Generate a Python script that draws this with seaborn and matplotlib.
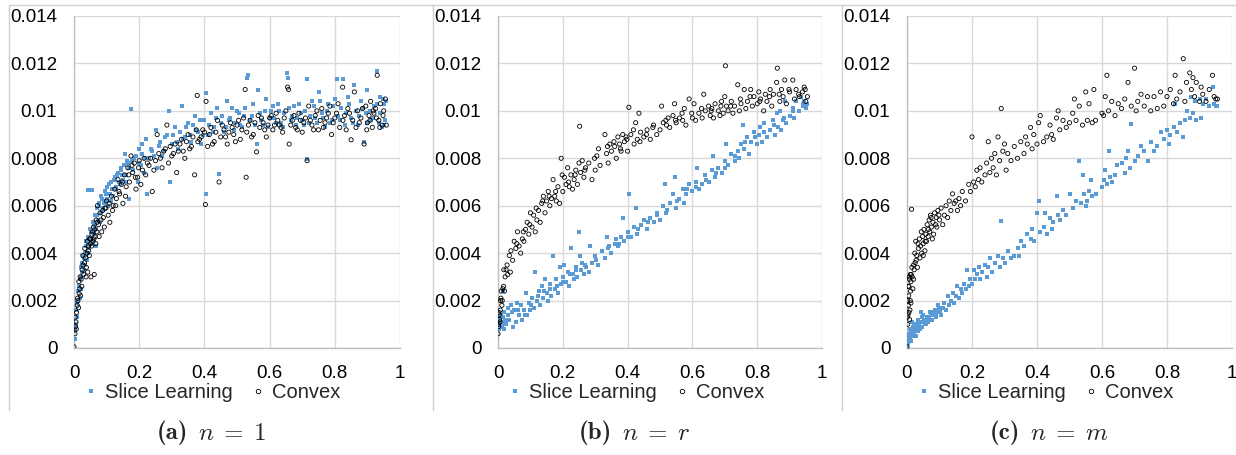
import matplotlib
matplotlib.use("Agg")
import pandas as pd
import matplotlib.pyplot as plt
import seaborn as sns
from matplotlib.lines import Line2D

Y_UNIT = 1e-3

# (a) n = 1
a_convex_x = [0.0,0.003,0.005,0.006,0.008,0.01,0.012,0.014,0.016,0.018,0.02,0.022,0.025,0.028,0.03,0.032,0.035,0.038,0.04,0.042,
              0.045,0.048,0.05,0.052,0.055,0.058,0.06,0.062,0.065,0.068,0.07,0.072,0.075,0.08,0.085,0.09,0.095,0.1,0.105,0.11,
              0.115,0.12,0.125,0.13,0.135,0.14,0.145,0.15,0.155,0.16,0.165,0.17,0.175,0.18,0.185,0.19,0.195,0.2,0.205,0.21,
              0.215,0.22,0.23,0.24,0.25,0.255,0.26,0.27,0.28,0.285,0.29,0.3,0.31,0.315,0.32,0.33,0.34,0.35,0.36,0.37,
              0.375,0.378,0.38,0.39,0.4,0.403,0.405,0.41,0.42,0.43,0.44,0.445,0.45,0.46,0.47,0.48,0.49,0.5,0.51,0.52,
              0.525,0.528,0.53,0.54,0.55,0.56,0.565,0.57,0.58,0.59,0.6,0.61,0.62,0.63,0.64,0.65,0.655,0.658,0.66,0.67,
              0.68,0.69,0.7,0.71,0.715,0.72,0.73,0.74,0.75,0.76,0.77,0.78,0.79,0.8,0.81,0.815,0.824,0.83,0.84,0.85,
              0.855,0.86,0.865,0.87,0.88,0.89,0.895,0.9,0.905,0.91,0.915,0.92,0.925,0.93,0.935,0.94,0.945,0.95,0.955,0.958,
              0.004,0.007,0.011,0.015,0.019,0.024,0.027,0.033,0.037,0.041,0.044,0.047,0.051,0.054,0.057,0.061,0.064,0.067,0.071,0.077,
              0.083,0.088,0.093,0.098,0.108,0.118,0.128,0.138,0.148,0.158,0.168,0.178,0.188,0.198,0.225,0.235,0.245,0.265,0.275,0.295,
              0.305,0.325,0.335,0.345,0.355,0.365,0.385,0.395,0.415,0.425,0.435,0.455,0.465,0.475,0.485,0.495,0.505,0.515,0.535,0.545,
              0.555,0.575,0.585,0.595,0.605,0.615,0.625,0.635,0.645,0.665,0.675,0.685,0.695,0.705,0.725,0.735,0.745,0.755,0.765,0.775,
              0.785,0.795,0.805,0.825,0.835,0.845,0.875,0.885,0.898,0.908,0.918,0.928,0.938,0.948]
a_convex_y = [0.05,0.6,0.9,1.1,1.5,1.8,2.0,1.7,2.3,2.5,2.2,2.9,3.3,3.5,3.1,3.6,3.8,3.4,4.0,3.2,
              4.3,4.6,4.4,3.0,4.8,4.5,5.1,3.1,4.7,5.4,4.9,6.0,5.2,5.7,4.9,5.5,5.9,6.2,5.6,5.3,
              6.4,6.0,6.7,6.3,7.1,6.5,6.9,6.1,7.3,6.8,7.6,7.0,8.1,7.4,7.8,6.7,7.2,7.9,6.9,7.5,
              8.0,7.3,7.7,6.6,7.9,9.0,8.2,7.6,8.4,9.4,7.8,8.1,8.6,7.4,8.3,8.8,8.0,9.0,8.5,7.3,
              9.2,10.65,8.7,8.9,9.1,6.05,10.4,8.5,9.3,8.7,9.6,7.0,8.9,9.2,8.6,9.5,9.0,9.4,8.8,9.7,
              10.9,7.2,9.1,9.6,9.0,8.27,9.8,9.3,9.5,8.9,9.7,9.2,9.9,9.4,9.1,10.0,11.0,10.9,8.6,9.6,
              9.3,9.9,9.1,9.7,7.9,10.2,9.4,9.8,9.2,10.1,9.5,9.9,9.0,9.7,10.3,9.3,11.0,9.8,10.1,8.78,
              9.6,10.8,9.3,10.0,9.7,8.6,10.2,9.5,9.8,10.4,9.3,9.9,10.1,11.5,9.6,10.3,9.4,10.0,10.5,9.4,
              1.3,0.8,2.1,2.8,3.0,2.6,3.9,4.2,3.0,4.5,4.1,3.9,4.6,4.3,4.9,4.6,5.0,4.4,5.3,4.7,
              5.4,5.8,5.1,5.9,6.1,5.8,6.0,6.6,7.0,6.4,7.3,7.7,7.2,7.6,7.8,8.0,7.5,8.0,8.3,8.5,
              8.2,8.6,8.3,8.7,8.4,8.9,8.8,9.2,9.0,8.6,9.1,9.4,8.9,9.1,9.3,8.7,9.6,9.2,9.4,8.9,
              9.5,9.7,9.2,9.4,9.8,9.4,9.6,9.3,9.7,9.4,9.8,9.2,9.6,9.5,9.6,9.2,10.0,9.6,9.3,9.7,
              10.2,9.5,9.9,9.6,9.2,9.9,9.5,10.1,9.2,9.6,10.0,9.7,9.3,9.8]
a_slice_x = [0.002,0.004,0.006,0.008,0.01,0.012,0.015,0.018,0.02,0.022,0.025,0.028,0.03,0.033,0.036,0.04,0.042,0.044,0.046,0.05,
             0.052,0.055,0.058,0.06,0.063,0.066,0.07,0.074,0.078,0.082,0.086,0.09,0.094,0.098,0.1,0.105,0.11,0.115,0.12,0.125,
             0.13,0.135,0.14,0.145,0.15,0.155,0.16,0.165,0.17,0.174,0.178,0.182,0.19,0.195,0.2,0.205,0.21,0.215,0.22,0.225,
             0.23,0.24,0.25,0.255,0.26,0.27,0.28,0.29,0.295,0.3,0.31,0.32,0.33,0.34,0.35,0.36,0.37,0.38,0.39,0.4,
             0.404,0.405,0.41,0.42,0.43,0.44,0.444,0.45,0.46,0.47,0.48,0.49,0.5,0.51,0.52,0.53,0.535,0.54,0.55,0.56,
             0.565,0.57,0.58,0.59,0.6,0.61,0.62,0.63,0.64,0.654,0.656,0.66,0.67,0.68,0.69,0.7,0.71,0.715,0.716,0.72,
             0.73,0.74,0.75,0.76,0.77,0.78,0.79,0.8,0.808,0.81,0.82,0.824,0.83,0.84,0.85,0.86,0.865,0.87,0.88,0.89,
             0.895,0.9,0.91,0.92,0.93,0.935,0.94,0.945,0.95,0.955,0.958,
             0.003,0.007,0.013,0.017,0.021,0.026,0.031,0.035,0.038,0.043,0.048,0.053,0.057,0.062,0.067,0.072,0.076,0.08,0.084,0.088,
             0.092,0.097,0.102,0.108,0.112,0.118,0.122,0.128,0.133,0.138,0.143,0.148,0.153,0.158,0.163,0.168,0.185,0.198,0.208,0.218,
             0.235,0.245,0.265,0.275,0.285,0.305,0.315,0.325,0.335,0.345,0.355,0.365,0.375,0.385,0.395,0.415,0.425,0.435,0.455,0.465,
             0.475,0.485,0.495,0.505,0.515,0.525,0.545,0.555,0.575,0.585,0.595,0.605,0.615,0.625,0.635,0.645,0.665,0.675,0.685,0.695,
             0.705,0.725,0.735,0.745,0.755,0.765,0.775,0.785,0.795,0.815,0.835,0.845,0.855,0.875,0.885,0.898,0.908,0.918,0.928,0.938,
             0.948,0.952]
a_slice_y = [0.4,0.7,1.0,1.3,1.9,2.4,2.6,2.1,3.0,3.4,3.6,3.9,3.3,4.0,4.5,3.7,4.7,6.67,4.2,5.0,
             4.4,6.67,5.3,4.8,5.6,4.3,5.9,5.4,6.1,5.7,6.3,5.9,6.6,6.2,6.8,6.0,6.5,7.0,6.4,7.2,
             6.7,7.4,6.9,7.6,7.1,8.2,7.3,7.8,6.3,10.07,7.9,7.5,8.1,7.0,8.4,7.7,8.6,7.4,8.8,6.5,
             8.0,8.3,9.2,7.6,8.5,8.1,8.9,10.0,7.0,8.6,9.3,8.4,10.2,8.9,9.5,8.7,9.8,9.1,8.6,9.6,
             10.75,6.5,9.0,9.9,9.3,10.1,7.33,9.5,9.1,10.4,9.7,9.2,10.0,9.4,9.8,11.4,11.5,9.6,10.3,8.6,
             10.9,9.9,9.4,10.5,9.7,10.2,9.5,10.0,9.3,11.6,11.4,10.1,9.8,9.4,10.3,9.6,10.0,11.35,7.99,9.5,
             10.4,9.7,10.8,9.9,9.3,10.3,9.6,10.5,11.35,9.8,10.1,11.35,9.4,10.6,9.7,11.1,10.0,9.4,10.4,8.7,
             9.9,10.9,9.6,10.2,11.7,9.5,10.6,9.3,10.3,9.6,10.4,
             0.9,1.6,2.0,2.9,2.5,3.2,3.8,3.5,4.3,4.0,4.6,4.9,4.5,5.2,5.0,5.6,6.0,5.3,6.4,5.8,
             6.1,6.5,6.3,6.9,6.2,6.7,7.1,6.8,7.3,7.0,7.5,7.3,7.7,7.0,7.9,7.6,8.0,7.8,8.2,8.0,
             8.4,8.1,8.7,8.3,9.0,9.0,8.7,9.1,8.8,9.3,9.0,9.4,9.2,9.6,9.0,9.4,9.1,9.7,9.8,9.3,
             9.6,10.1,9.5,9.9,9.3,10.1,9.8,9.4,9.6,10.0,9.3,10.0,9.7,10.3,9.5,9.9,9.6,10.2,9.7,9.9,
             9.4,9.8,10.2,9.5,10.4,9.7,10.0,9.5,10.2,9.6,9.9,10.3,9.5,9.8,10.1,9.5,10.0,9.7,10.3,9.9,
             10.5,9.4]

# (b) n = r
b_convex_x = [0.0,0.002,0.004,0.005,0.007,0.008,0.01,0.012,0.015,0.018,0.02,0.022,0.025,0.03,0.035,0.04,0.045,0.05,0.055,0.06,
              0.065,0.07,0.075,0.08,0.085,0.09,0.095,0.1,0.105,0.11,0.115,0.12,0.125,0.13,0.135,0.14,0.145,0.15,0.155,0.16,
              0.165,0.17,0.175,0.18,0.185,0.19,0.195,0.2,0.205,0.21,0.215,0.22,0.225,0.23,0.235,0.24,0.245,0.25,0.252,0.255,
              0.26,0.265,0.27,0.28,0.29,0.3,0.305,0.31,0.315,0.33,0.335,0.34,0.345,0.35,0.36,0.365,0.37,0.375,0.38,0.385,
              0.39,0.395,0.4,0.404,0.41,0.42,0.425,0.43,0.435,0.44,0.45,0.46,0.47,0.48,0.49,0.5,0.505,0.51,0.52,0.525,
              0.53,0.54,0.545,0.55,0.56,0.57,0.575,0.58,0.59,0.6,0.605,0.61,0.62,0.63,0.635,0.64,0.65,0.655,0.66,0.665,
              0.67,0.68,0.685,0.69,0.695,0.7,0.702,0.705,0.71,0.72,0.725,0.73,0.74,0.745,0.75,0.76,0.765,0.77,0.78,0.785,
              0.79,0.8,0.805,0.81,0.82,0.825,0.83,0.84,0.845,0.85,0.86,0.862,0.87,0.875,0.88,0.885,0.89,0.9,0.91,0.915,
              0.92,0.93,0.94,0.945,0.95,0.955,
              0.001,0.003,0.006,0.009,0.013,0.017,0.028,0.038,0.058,0.078,0.098,0.118,0.138,0.158,0.178,0.198,0.218,0.238,0.268,0.298,
              0.338,0.358,0.378,0.398,0.418,0.438,0.458,0.478,0.518,0.548,0.568,0.598,0.628,0.658,0.688,0.718,0.748,0.778,0.808,0.838,
              0.868,0.898,0.928,0.948]
b_convex_y = [0.6,0.9,1.4,1.2,1.6,2.0,2.4,1.8,2.5,3.3,2.4,3.0,3.3,3.1,3.9,4.1,3.7,4.5,4.2,4.9,
              4.3,4.0,4.6,4.5,5.0,5.3,4.8,5.7,5.1,5.6,4.9,5.4,5.8,5.3,6.1,6.4,5.7,6.2,6.6,6.0,
              6.3,7.1,6.4,6.2,6.8,6.1,8.0,6.6,7.2,6.9,7.6,6.8,7.3,6.7,7.1,7.5,6.9,7.8,9.35,7.4,
              7.9,7.2,7.6,7.8,7.1,7.5,8.1,8.4,7.7,9.0,8.2,7.8,8.6,8.3,8.5,8.0,8.9,8.6,8.3,9.0,
              8.7,8.9,8.3,10.15,9.0,8.6,9.5,8.8,9.9,9.1,8.9,9.2,8.8,9.4,9.0,9.2,10.2,9.5,9.4,9.7,
              9.3,9.8,10.3,9.5,9.7,9.6,10.1,9.4,10.5,9.7,10.3,9.6,9.9,9.7,10.7,10.0,10.2,9.8,10.1,9.7,
              10.3,10.0,9.8,10.4,9.9,10.6,11.9,10.2,10.0,10.4,9.9,10.2,11.1,10.0,10.3,10.9,10.1,10.4,10.9,10.2,
              10.6,10.3,10.8,10.5,10.0,10.7,10.4,10.9,10.2,10.7,11.2,11.8,10.4,10.9,10.6,11.3,10.3,10.8,11.3,10.5,
              10.9,10.6,10.8,11.0,10.4,10.6,
              1.0,1.5,1.1,2.1,2.0,2.6,3.5,3.2,4.4,4.9,5.2,5.9,6.2,6.4,6.6,7.3,7.0,7.3,7.5,8.0,
              8.5,8.7,8.4,8.8,9.2,8.7,9.0,9.3,9.6,9.6,9.9,9.9,10.1,10.0,10.2,10.2,10.5,10.6,10.4,10.6,
              10.7,10.9,10.7,10.9]
b_slice_x = [0.0,0.002,0.004,0.006,0.008,0.01,0.012,0.014,0.016,0.018,0.02,0.025,0.03,0.035,0.04,0.045,0.05,0.055,0.06,0.065,
             0.07,0.075,0.08,0.085,0.09,0.095,0.1,0.105,0.11,0.115,0.12,0.125,0.13,0.135,0.14,0.145,0.15,0.155,0.16,0.165,
             0.17,0.175,0.18,0.185,0.19,0.195,0.2,0.205,0.21,0.215,0.22,0.225,0.23,0.235,0.24,0.245,0.25,0.252,0.255,0.26,
             0.265,0.27,0.28,0.285,0.29,0.3,0.31,0.32,0.33,0.335,0.34,0.35,0.36,0.365,0.37,0.38,0.385,0.39,0.4,0.405,
             0.41,0.42,0.425,0.43,0.44,0.45,0.46,0.47,0.48,0.49,0.5,0.51,0.515,0.52,0.53,0.54,0.545,0.55,0.56,0.57,
             0.575,0.58,0.59,0.6,0.61,0.615,0.62,0.63,0.64,0.65,0.66,0.665,0.67,0.68,0.69,0.7,0.705,0.71,0.72,0.73,
             0.74,0.745,0.75,0.755,0.76,0.77,0.775,0.78,0.79,0.8,0.805,0.81,0.815,0.82,0.83,0.84,0.85,0.855,0.86,0.865,
             0.87,0.875,0.88,0.885,0.89,0.9,0.91,0.915,0.92,0.93,0.935,0.94,0.945,0.95,0.955,
             0.001,0.003,0.005,0.007,0.009,0.011,0.013,0.022,0.032,0.042,0.062,0.082,0.102,0.122,0.142,0.162,0.182,0.202,0.222,0.242,
             0.272,0.302,0.342,0.372,0.402,0.432,0.462,0.492,0.522,0.552,0.582,0.612,0.642,0.672,0.702,0.732,0.762,0.792,0.822,0.852,
             0.882,0.912,0.942]
b_slice_y = [0.9,1.2,0.8,1.0,1.4,1.1,0.9,2.4,1.3,0.8,1.5,1.0,1.7,1.2,1.8,0.9,1.6,1.1,1.9,1.4,
             1.8,1.2,1.6,2.3,1.4,1.9,1.6,2.1,1.7,3.2,2.0,2.4,1.8,2.6,2.1,2.9,2.3,2.0,2.7,2.2,
             3.9,2.5,2.9,2.3,3.4,2.7,3.0,3.5,2.8,3.2,2.6,4.2,3.1,2.9,3.4,3.0,4.9,3.9,3.3,3.6,
             3.1,3.5,3.2,4.3,3.6,3.9,3.5,4.1,3.8,4.7,4.2,4.0,4.4,4.6,4.3,4.7,5.5,4.5,4.9,6.5,
             4.7,5.1,5.9,4.8,5.2,5.4,5.0,5.5,5.3,5.7,5.4,6.0,6.9,5.7,6.1,6.5,7.2,5.9,6.3,6.7,
             6.1,6.5,6.9,6.6,7.0,7.6,6.7,6.9,7.3,7.0,7.5,8.1,7.2,7.6,7.4,7.9,8.6,7.7,8.2,7.9,
             8.3,8.0,8.6,9.4,8.4,8.9,8.2,8.7,9.1,8.6,9.0,9.3,8.7,9.5,8.9,9.2,9.6,9.0,9.9,9.3,
             10.0,9.2,9.6,10.4,9.5,9.8,10.1,9.7,10.4,10.0,10.6,10.2,10.4,10.1,10.3,
             1.1,0.9,1.3,1.2,0.9,1.3,1.0,1.2,1.4,1.5,1.6,1.4,1.8,2.2,2.4,2.5,2.6,2.8,3.1,3.3,
             3.4,3.7,4.3,4.4,4.7,5.0,5.3,5.6,5.8,6.2,6.7,6.8,7.1,7.4,7.6,8.1,8.7,8.9,9.1,9.4,
             9.7,10.0,10.3]

# (c) n = m
c_convex_x = [0.0,0.002,0.003,0.004,0.005,0.006,0.007,0.008,0.009,0.01,0.011,0.012,0.013,0.014,0.015,0.018,0.02,0.022,0.025,0.027,
              0.03,0.032,0.035,0.038,0.04,0.042,0.045,0.048,0.05,0.052,0.055,0.058,0.06,0.062,0.065,0.068,0.07,0.072,0.075,0.08,
              0.082,0.085,0.088,0.09,0.095,0.1,0.105,0.11,0.115,0.12,0.125,0.13,0.135,0.14,0.145,0.15,0.155,0.16,0.165,0.17,
              0.18,0.19,0.195,0.2,0.205,0.21,0.215,0.22,0.225,0.23,0.24,0.245,0.25,0.255,0.26,0.265,0.27,0.275,0.28,0.285,
              0.29,0.295,0.3,0.305,0.31,0.32,0.33,0.34,0.35,0.36,0.365,0.37,0.38,0.385,0.39,0.4,0.405,0.41,0.42,0.43,
              0.44,0.445,0.45,0.46,0.465,0.47,0.48,0.49,0.5,0.51,0.515,0.52,0.53,0.54,0.55,0.555,0.56,0.57,0.575,0.58,
              0.6,0.605,0.61,0.615,0.62,0.63,0.64,0.65,0.66,0.67,0.68,0.69,0.7,0.705,0.71,0.72,0.73,0.74,0.75,0.76,
              0.77,0.78,0.79,0.8,0.81,0.82,0.825,0.83,0.84,0.85,0.855,0.86,0.87,0.875,0.88,0.885,0.89,0.9,0.905,0.91,
              0.92,0.93,0.94,0.945,0.95,0.955,
              0.001,0.002,0.004,0.006,0.008,0.01,0.012,0.016,0.02,0.024,0.028,0.034,0.044,0.05,0.056,0.066,0.074,0.078,0.092,0.098]
c_convex_y = [0.05,1.0,1.4,1.8,2.2,2.6,3.0,1.2,1.6,2.0,2.4,2.8,3.1,5.85,3.4,2.5,2.9,3.3,3.6,4.5,
              3.9,3.4,4.2,4.6,3.8,4.3,4.0,4.7,4.4,5.0,4.1,4.8,4.5,5.2,4.7,5.4,4.9,5.6,5.1,5.3,
              4.8,5.7,5.2,5.5,5.8,5.4,5.9,5.2,5.6,6.0,5.5,6.2,5.8,6.5,6.1,6.2,5.8,6.3,6.0,6.6,
              6.2,6.9,6.6,8.9,7.0,6.8,7.5,7.1,7.6,7.0,7.3,7.8,8.7,7.4,8.0,7.6,8.2,7.3,8.9,7.9,
              10.1,8.3,8.6,7.5,8.2,7.9,8.5,8.0,8.7,8.2,8.9,8.6,9.3,8.4,9.0,8.6,9.5,9.8,8.7,8.9,
              9.4,9.0,8.8,9.7,10.0,9.2,9.6,9.3,9.5,9.9,10.5,9.6,10.2,9.4,10.8,9.6,10.3,9.5,10.9,9.6,
              9.9,9.8,10.6,11.5,10.0,10.4,9.8,10.3,10.1,10.5,11.2,10.2,11.8,10.0,10.4,10.7,10.2,10.6,10.0,10.6,
              10.1,10.8,10.2,10.6,10.9,10.3,11.5,10.5,10.8,12.2,10.4,11.2,11.6,10.9,11.4,10.6,11.2,10.4,11.0,10.7,
              10.4,10.9,11.5,10.6,10.5,10.5,
              1.3,2.0,2.6,1.5,2.9,3.1,1.9,3.0,3.5,4.0,3.7,4.4,4.9,3.9,4.5,5.0,5.5,4.6,5.1,5.6]
c_slice_x = [0.0,0.002,0.003,0.004,0.005,0.006,0.008,0.01,0.012,0.014,0.015,0.018,0.02,0.022,0.025,0.028,0.03,0.033,0.035,0.038,
             0.04,0.043,0.045,0.048,0.05,0.055,0.06,0.065,0.07,0.075,0.08,0.085,0.09,0.095,0.1,0.105,0.11,0.115,0.12,0.125,
             0.13,0.135,0.14,0.145,0.15,0.155,0.16,0.165,0.17,0.175,0.18,0.185,0.19,0.195,0.2,0.205,0.21,0.215,0.22,0.225,
             0.23,0.24,0.245,0.25,0.255,0.26,0.27,0.28,0.285,0.29,0.295,0.3,0.31,0.32,0.33,0.34,0.345,0.35,0.36,0.37,
             0.38,0.385,0.39,0.4,0.405,0.41,0.42,0.425,0.43,0.44,0.445,0.45,0.46,0.465,0.47,0.48,0.49,0.5,0.51,0.52,
             0.53,0.535,0.54,0.545,0.55,0.555,0.56,0.565,0.57,0.58,0.6,0.605,0.61,0.615,0.62,0.625,0.63,0.64,0.645,0.66,
             0.67,0.675,0.68,0.685,0.69,0.7,0.71,0.72,0.73,0.74,0.75,0.76,0.77,0.78,0.79,0.8,0.805,0.81,0.82,0.825,
             0.83,0.84,0.85,0.855,0.86,0.87,0.875,0.88,0.885,0.89,0.9,0.905,0.91,0.92,0.93,0.94,0.945,0.95,0.955,
             0.001,0.003,0.006,0.009,0.011,0.013,0.016,0.019,0.023,0.027,0.032,0.037,0.042,0.047,0.052,0.058,0.063,0.068,0.073,0.078,
             0.083,0.088,0.093,0.098]
c_slice_y = [0.05,0.2,0.4,0.3,0.6,0.5,0.8,0.4,0.7,1.1,0.5,0.9,0.6,1.0,0.8,0.5,0.9,1.2,0.7,1.0,
             0.8,1.5,0.9,1.1,1.4,1.0,1.3,1.1,1.5,1.2,1.4,1.6,1.3,1.8,1.5,1.4,1.7,1.9,1.6,2.2,
             1.8,2.0,2.3,1.9,2.2,2.6,2.1,2.5,2.3,2.7,2.5,3.3,2.6,2.9,2.7,3.3,2.9,3.1,3.4,2.9,
             3.2,3.5,3.0,3.4,3.8,3.2,3.6,3.9,3.4,5.35,3.8,3.6,4.1,3.8,3.9,4.2,3.9,4.5,4.3,4.8,
             4.6,5.0,4.5,5.7,6.2,4.9,5.1,5.7,4.8,5.5,5.0,5.3,6.4,5.6,5.4,5.8,5.6,6.5,5.9,6.2,
             7.9,6.1,7.3,6.5,6.0,6.2,6.6,7.1,6.4,6.5,6.8,7.1,7.5,6.9,8.3,7.2,7.0,7.3,7.7,7.8,
             7.4,8.0,8.3,7.6,9.45,7.9,8.1,8.5,8.3,7.9,8.7,8.3,8.5,9.1,8.8,9.2,8.6,9.0,9.3,10.3,
             9.1,9.5,8.9,9.6,10.0,9.7,10.6,9.9,10.4,9.6,10.5,9.7,10.3,10.5,10.2,11.0,10.3,10.2,10.2,
             0.1,0.2,0.3,0.6,0.3,0.6,0.8,0.6,0.7,1.0,0.8,0.9,1.1,1.3,1.2,1.0,1.2,1.3,1.4,1.2,
             1.5,1.4,1.5,1.7]

x_ticks = [0, 0.2, 0.4, 0.6, 0.8, 1]
x_tick_labels = ["0", "0.2", "0.4", "0.6", "0.8", "1"]
y_ticks = [0, 0.002, 0.004, 0.006, 0.008, 0.010, 0.012, 0.014]
y_tick_labels = ["0", "0.002", "0.004", "0.006", "0.008", "0.01", "0.012", "0.014"]
series_names = ["Slice Learning", "Convex"]
caption_tags = ["(a)", "(b)", "(c)"]
caption_maths = [r"$n\;=\;1$", r"$n\;=\;r$", r"$n\;=\;m$"]

BLUE = "#5B9BD5"
GRID = "#D9D9D9"
FRAME = "#D0D0D0"

sns.set_theme(style="white")
plt.rcParams["font.family"] = ["Liberation Sans", "DejaVu Sans"]
plt.rcParams["mathtext.fontset"] = "cm"

W, H = 1236, 455
fig = plt.figure(figsize=(W / 100, H / 100), dpi=100)

panels = [
    (a_slice_x, a_slice_y, a_convex_x, a_convex_y),
    (b_slice_x, b_slice_y, b_convex_x, b_convex_y),
    (c_slice_x, c_slice_y, c_convex_x, c_convex_y),
]
# pixel geometry of each plot area: left edge, right edge
ax_px = [(74, 400), (498, 822), (907, 1232)]
frame_left_px = [9, 433, 842]
caption_px = [207, 631, 1039]
top_px, bottom_px = 16, 348

for i, (sx, sy, cx, cy) in enumerate(panels):
    l, r = ax_px[i]
    ax = fig.add_axes([l / W, 1 - bottom_px / H, (r - l) / W, (bottom_px - top_px) / H])

    df_s = pd.DataFrame({"x": sx, "y": [v * Y_UNIT for v in sy]})
    df_c = pd.DataFrame({"x": cx, "y": [v * Y_UNIT for v in cy]})

    sns.scatterplot(data=df_s, x="x", y="y", marker="s", s=11, color=BLUE,
                    linewidth=0, ax=ax, zorder=3)
    sns.scatterplot(data=df_c, x="x", y="y", marker="o", s=9, color="black",
                    linewidth=0.6, ax=ax, zorder=4)
    circles = ax.collections[-1]
    circles.set_facecolor("none")
    circles.set_edgecolor("black")

    ax.set_xlim(0, 1)
    ax.set_ylim(0, 0.014)
    ax.set_xticks(x_ticks)
    ax.set_xticklabels(x_tick_labels)
    ax.set_yticks(y_ticks)
    ax.set_yticklabels(y_tick_labels)
    ax.set_xlabel("")
    ax.set_ylabel("")
    ax.grid(True, color=GRID, linewidth=1)
    ax.set_axisbelow(True)
    ax.tick_params(axis="both", length=0, labelsize=13.5, colors="black")
    ax.tick_params(axis="y", pad=12)
    ax.tick_params(axis="x", pad=12)
    for side in ["top", "right"]:
        ax.spines[side].set_visible(False)
    for side in ["left", "bottom"]:
        ax.spines[side].set_color("#BFBFBF")
        ax.spines[side].set_linewidth(1)

    handles = [
        Line2D([], [], linestyle="none", marker="s", markersize=3.2,
               markerfacecolor=BLUE, markeredgewidth=0),
        Line2D([], [], linestyle="none", marker="o", markersize=3.2,
               markerfacecolor="none", markeredgecolor="black", markeredgewidth=0.6),
    ]
    leg_cx = (213 + frame_left_px[i] - 9 - l) / (r - l)
    leg_cy = (bottom_px - 393) / (bottom_px - top_px)
    ax.legend(handles, series_names, loc="center", bbox_to_anchor=(leg_cx, leg_cy),
              ncol=2, frameon=False, fontsize=14.5, handlelength=0.5,
              handletextpad=0.45, columnspacing=1.0, borderpad=0)

    # outer chart frame (left and top edges are visible in the source)
    fx = frame_left_px[i] / W
    fig.add_artist(Line2D([fx, fx], [1 - 5 / H, 1 - 410 / H],
                          transform=fig.transFigure, color=FRAME, linewidth=1))

    cap_y = 1 - 433 / H
    fig.text((caption_px[i] - 19) / W, cap_y, caption_tags[i], ha="right", va="center",
             fontsize=18, family="cmb10")
    fig.text((caption_px[i] - 9) / W, cap_y, caption_maths[i], ha="left", va="center",
             fontsize=18)

fig.add_artist(Line2D([9 / W, 1.0], [1 - 5 / H, 1 - 5 / H],
                      transform=fig.transFigure, color=FRAME, linewidth=1))

fig.savefig("out.png", dpi=100)
